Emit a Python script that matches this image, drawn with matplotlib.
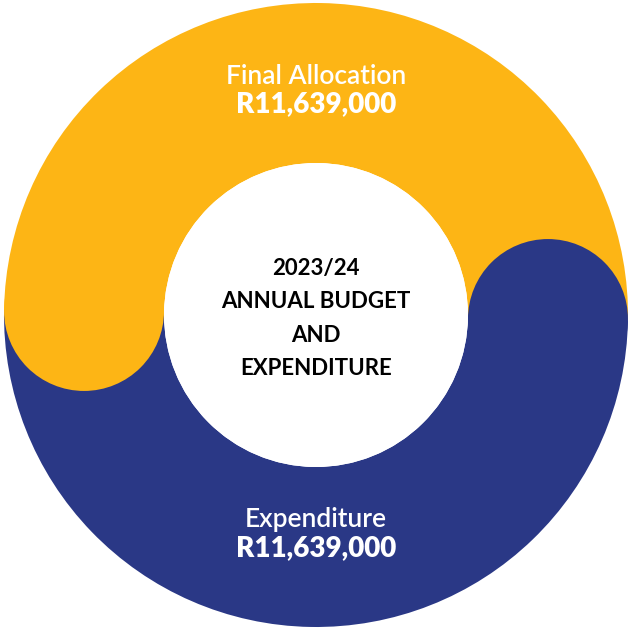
import numpy as np
import matplotlib.pyplot as plt
from matplotlib.patches import Wedge, Circle

# data
labels = ['Final Allocation', 'Expenditure']
values = [11639000, 11639000]
colors = ['#FDB515', '#2A3886']
title_lines = ['2023/24', 'ANNUAL BUDGET', 'AND', 'EXPENDITURE']

# geometry (pixel units)
cx, cy = 316, 313
r_out, r_in = 312, 152
start = -1.0

fig = plt.figure(figsize=(6.29, 6.28), dpi=100)
ax = fig.add_axes([0, 0, 1, 1])
ax.set_xlim(0, 629)
ax.set_ylim(0, 628)
ax.set_aspect('equal')
ax.axis('off')

frac = np.array(values) / np.sum(values)
a1 = start + 360 * frac[0]
width = r_out - r_in
rmid = (r_out + r_in) / 2

# ring segments
ax.add_patch(Wedge((cx, cy), r_out, start, a1, width=width, color=colors[0], lw=0))
ax.add_patch(Wedge((cx, cy), r_out, a1, start + 360, width=width, color=colors[1], lw=0))

# rounded heads
for ang, col in [(a1, colors[0]), (start, colors[1])]:
    t = np.deg2rad(ang)
    ax.add_patch(Circle((cx + rmid * np.cos(t), cy + rmid * np.sin(t)), width / 2,
                        color=col, lw=0))

ax.add_patch(Circle((cx, cy), r_in, color='white', lw=0))

# labels
fam = ['Lato', 'DejaVu Sans']
ax.text(cx, 628 - 76, labels[0], ha='center', va='center', color='white',
        fontsize=19, fontweight='semibold', family=fam)
ax.text(cx, 628 - 104, f'R{values[0]:,}', ha='center', va='center', color='white',
        fontsize=20, fontweight='heavy', family=fam)
ax.text(cx, 628 - 520, labels[1], ha='center', va='center', color='white',
        fontsize=19, fontweight='semibold', family=fam)
ax.text(cx, 628 - 548, f'R{values[1]:,}', ha='center', va='center', color='white',
        fontsize=20, fontweight='heavy', family=fam)

for i, line in enumerate(title_lines):
    ax.text(cx, 628 - (268 + 33.5 * i), line, ha='center', va='center', color='black',
            fontsize=16, fontweight='bold', family=fam)

fig.savefig('out.png', dpi=100)
